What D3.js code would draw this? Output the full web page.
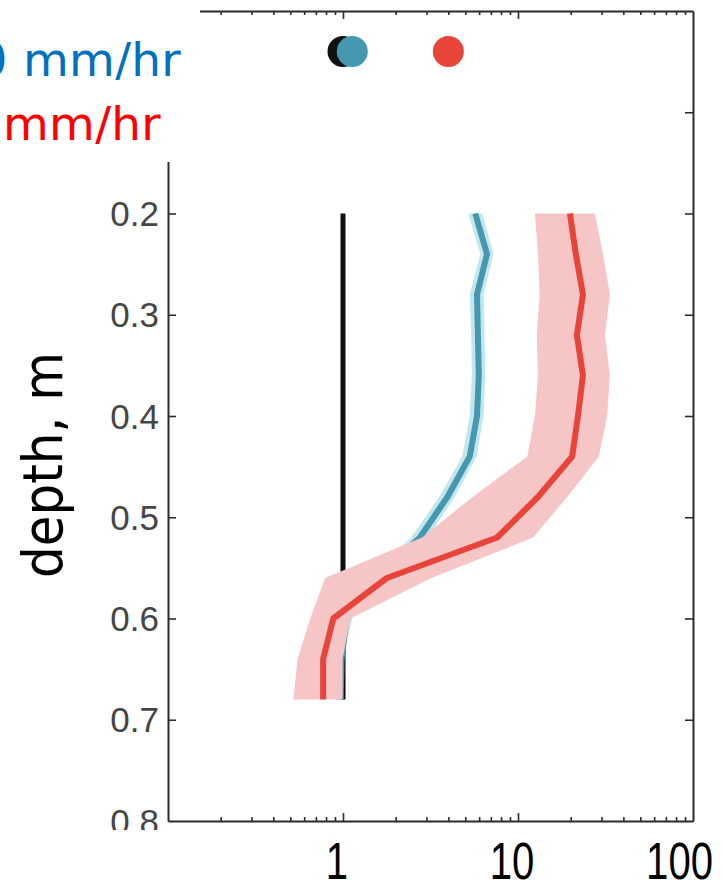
<!DOCTYPE html>
<html>
<head>
<meta charset="utf-8">
<script src="https://cdn.jsdelivr.net/npm/d3@7"></script>
<style>
  html, body { margin: 0; padding: 0; background: #fff; }
  svg { display: block; }
  .frame .domain { stroke: #2b2b2b; stroke-width: 2; }
  .frame .tick line { stroke: #2b2b2b; stroke-width: 1.6; }
  .frame .tick text { display: none; }
</style>
</head>
<body>
<script>
// Depth profiles (m) for three rain intensities
const depths = [0.20, 0.24, 0.28, 0.32, 0.36, 0.40, 0.44, 0.48, 0.52, 0.56, 0.60, 0.64, 0.68];

// Reference profile (no rain)
const blackValues = [1, 1, 1, 1, 1, 1, 1, 1, 1, 1, 1, 1, 1];

// Moderate rain: mean and spread
const blueValues = [5.7, 6.65, 5.83, 5.9, 5.97, 5.83, 5.3, 3.95, 2.75, 1.55, 1.05, 0.98, 0.97];
const blueLow    = [5.2, 6.1, 5.3, 5.4, 5.45, 5.3, 4.8, 3.55, 2.45, 1.4, 0.99, 0.93, 0.92];
const blueHigh   = [6.25, 7.25, 6.35, 6.45, 6.5, 6.35, 5.8, 4.35, 3.05, 1.7, 1.13, 0.99, 0.98];

// Heavy rain: mean and spread
const redValues = [19.8, 21.4, 23.5, 21.7, 23.5, 22.0, 20.4, 13.0, 7.6, 1.78, 0.88, 0.77, 0.77];
const redLow    = [12.5, 13.0, 13.3, 12.8, 13.0, 12.5, 11.3, 5.5, 2.83, 0.79, 0.65, 0.55, 0.52];
const redHigh   = [27.5, 30.6, 33.5, 31.4, 33.5, 32.3, 29.0, 19.1, 12.2, 3.2, 1.1, 0.995, 0.995];

// Surface markers
const surfaceDepth = 0.04;
const surfaceValues = [1.0, 1.13, 4.0];
const surfaceColors = ["#111111", "#4499b1", "#e8443a"];

// Axis ticks and labels
const depthTicks = [0, 0.1, 0.2, 0.3, 0.4, 0.5, 0.6, 0.7, 0.8];
const depthLabels = ["0.2", "0.3", "0.4", "0.5", "0.6", "0.7", "0.8"];
const majorTicks = [1, 10];
const minorTicks = [0.2, 0.3, 0.4, 0.5, 0.6, 0.7, 0.8, 0.9,
                    2, 3, 4, 5, 6, 7, 8, 9,
                    20, 30, 40, 50, 60, 70, 80, 90];
const xLabels = [1, 10, 100];
const legendTexts = ["0 mm/hr", "mm/hr"];

const W = 725, H = 885;
const svg = d3.select("body").append("svg").attr("width", W).attr("height", H);

const x = d3.scaleLog().domain([0.1, 100]).range([168, 693]);
const y = d3.scaleLinear().domain([0, 0.8]).range([11, 821]);

// Frame with inward ticks on all four sides
const frame = svg.append("g").attr("class", "frame");
frame.append("g").attr("transform", `translate(0,${y(0.8)})`)
  .call(d3.axisBottom(x).tickValues(minorTicks).tickSize(-4).tickSizeOuter(0).tickFormat(""));
frame.append("g").attr("transform", `translate(0,${y(0.8)})`)
  .call(d3.axisBottom(x).tickValues(majorTicks).tickSize(-8).tickSizeOuter(0).tickFormat(""))
  .select(".domain").remove();
frame.append("g").attr("transform", `translate(0,${y(0)})`)
  .call(d3.axisTop(x).tickValues(minorTicks).tickSize(-4).tickSizeOuter(0).tickFormat(""));
frame.append("g").attr("transform", `translate(0,${y(0)})`)
  .call(d3.axisTop(x).tickValues(majorTicks).tickSize(-8).tickSizeOuter(0).tickFormat(""))
  .select(".domain").remove();
frame.append("g").attr("transform", `translate(${x(0.1)},0)`)
  .call(d3.axisLeft(y).tickValues(depthTicks.slice(1, -1)).tickSize(-8).tickSizeOuter(0).tickFormat(""));
frame.append("g").attr("transform", `translate(${x(100)},0)`)
  .call(d3.axisRight(y).tickValues(depthTicks.slice(1, -1)).tickSize(-8).tickSizeOuter(0).tickFormat(""));

// Depth tick labels
svg.append("g").selectAll("text").data(depthLabels).join("text")
  .attr("x", x(0.1) - 9)
  .attr("y", d => y(+d))
  .attr("dy", "0.36em")
  .attr("text-anchor", "end")
  .attr("font-family", "'Liberation Sans', Arial, sans-serif")
  .attr("font-size", 35)
  .attr("fill", "#454545")
  .text(d => d);

// Profiles
const rows = (vals, lo, hi) => depths.map((d, i) => ({ depth: d, v: vals[i], lo: lo ? lo[i] : null, hi: hi ? hi[i] : null }));
const line = d3.line().x(d => x(d.v)).y(d => y(d.depth));
const band = d3.area().y(d => y(d.depth)).x0(d => x(d.lo)).x1(d => x(d.hi));

const blackRows = rows(blackValues);
const blueRows = rows(blueValues, blueLow, blueHigh);
const redRows = rows(redValues, redLow, redHigh);

const plot = svg.append("g");
plot.append("path").datum(blackRows).attr("d", line)
  .attr("fill", "none").attr("stroke", "#0d0d0d").attr("stroke-width", 5);
plot.append("path").datum(blueRows).attr("d", band).attr("fill", "#c3e6ed");
plot.append("path").datum(blueRows).attr("d", line)
  .attr("fill", "none").attr("stroke", "#4499b1").attr("stroke-width", 6).attr("stroke-linejoin", "round");
plot.append("path").datum(redRows).attr("d", band).attr("fill", "#f6c6c6");
plot.append("path").datum(redRows).attr("d", line)
  .attr("fill", "none").attr("stroke", "#e8443a").attr("stroke-width", 6).attr("stroke-linejoin", "round");

// Surface markers
plot.selectAll("circle").data(surfaceValues).join("circle")
  .attr("cx", d => x(d))
  .attr("cy", y(surfaceDepth))
  .attr("r", 15.5)
  .attr("fill", (d, i) => surfaceColors[i]);

// Panels masking the outer corners of the frame
svg.append("rect").attr("x", 0).attr("y", 0).attr("width", 200).attr("height", 162).attr("fill", "#fff");
svg.append("rect").attr("x", 0).attr("y", 830).attr("width", W).attr("height", H - 830).attr("fill", "#fff");

// Legend
const legendColors = ["#0070c0", "#ff0000"];
const legendRight = [181, 161];
const legendBase = [76, 140];
svg.append("g").selectAll("text").data(legendTexts).join("text")
  .attr("x", (d, i) => legendRight[i])
  .attr("y", (d, i) => legendBase[i])
  .attr("text-anchor", "end")
  .attr("font-family", "'DejaVu Sans', Verdana, sans-serif")
  .attr("font-size", 47)
  .attr("letter-spacing", 0.3)
  .attr("fill", (d, i) => legendColors[i])
  .text(d => d);

// Axis title
svg.append("text")
  .attr("transform", "translate(62,465) rotate(-90)")
  .attr("text-anchor", "middle")
  .attr("font-family", "'DejaVu Sans', Verdana, sans-serif")
  .attr("font-size", 56)
  .attr("textLength", 226)
  .attr("lengthAdjust", "spacingAndGlyphs")
  .attr("fill", "#000")
  .text("depth, m");

// Horizontal axis labels
const xl = svg.append("g").selectAll("text").data(xLabels).join("text")
  .attr("x", d => x(d) - 6)
  .attr("y", 879)
  .attr("text-anchor", "middle")
  .attr("font-family", "'Liberation Sans', Arial, sans-serif")
  .attr("font-size", 51)
  .attr("textLength", d => String(d).length * 22.3)
  .attr("lengthAdjust", "spacingAndGlyphs")
  .attr("fill", "#000")
  .text(d => d);
// keep the widest label inside the right margin
xl.each(function (d) {
  const half = String(d).length * 22.3 / 2;
  const cx = +this.getAttribute("x");
  if (cx + half > W - 12) this.setAttribute("x", W - 12 - half);
});
</script>
</body>
</html>
